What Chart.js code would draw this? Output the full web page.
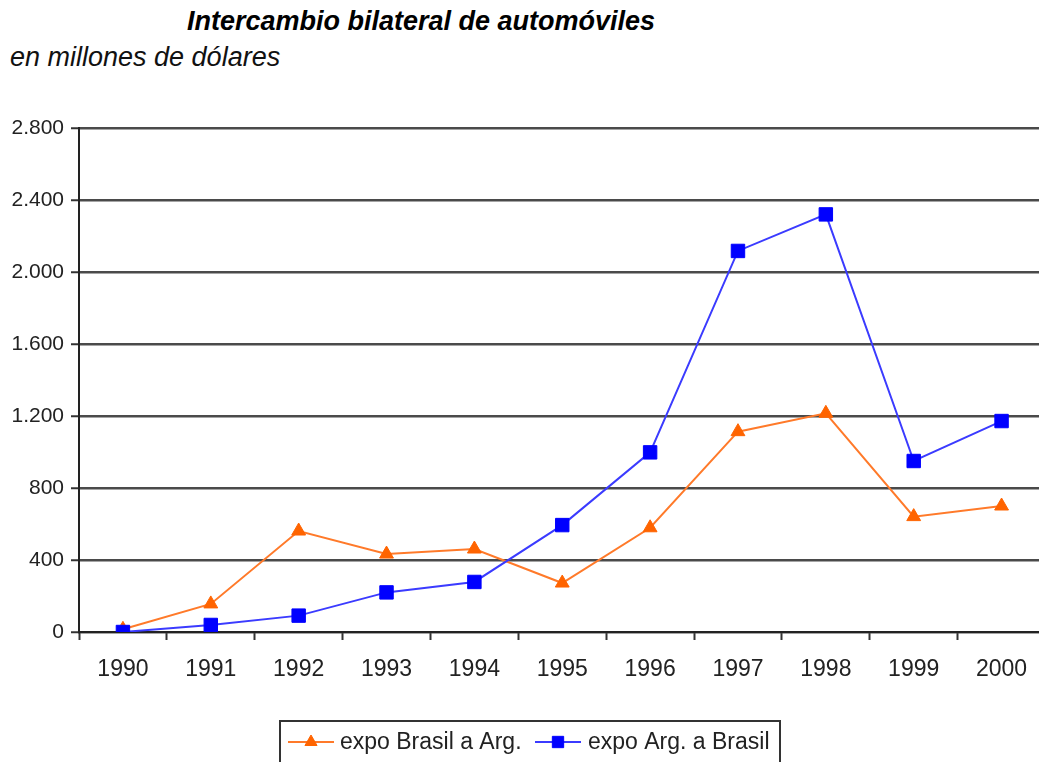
<!DOCTYPE html>
<html>
<head>
<meta charset="utf-8">
<script src="https://cdn.jsdelivr.net/npm/chart.js@4/dist/chart.umd.min.js"></script>
<style>
    body { margin: 0; background: #fff; overflow: hidden; width: 1039px; height: 762px; position: relative; }
    #chart { position: absolute; left: 0; top: 0; }
    .title { position: absolute; left: 187px; top: 8px; font: italic bold 27px "Liberation Sans", Arial, sans-serif; line-height: 27px; color: #000; white-space: nowrap; }
    .subtitle { position: absolute; left: 10px; top: 44px; font: italic 27px "Liberation Sans", Arial, sans-serif; line-height: 27px; color: #111; white-space: nowrap; }
</style>
</head>
<body>
<div class="title">Intercambio bilateral de automóviles</div>
<div class="subtitle">en millones de dólares</div>
<canvas id="chart" width="1056" height="762"></canvas>
<script>
const years = ["1990", "1991", "1992", "1993", "1994", "1995", "1996", "1997", "1998", "1999", "2000"];
const expoBrasilArg = [15, 156, 561, 433, 461, 272, 579, 1113, 1215, 641, 700];
const expoArgBrasil = [0, 39, 91, 220, 278, 594, 998, 2117, 2320, 950, 1172];
const yTicks = [0, 400, 800, 1200, 1600, 2000, 2400, 2800];

const fontFamily = '"Liberation Sans", Arial, sans-serif';

// legend drawn by hand: line with the marker in the middle, inside a box
const boxLegend = {
    id: 'boxLegend',
    afterDraw(chart) {
        let ctx = chart.ctx;
        ctx.save();
        ctx.strokeStyle = '#333';
        ctx.lineWidth = 2;
        ctx.strokeRect(280, 721, 500, 60);
        let items = [
            { x: 288, ds: chart.data.datasets[0], tx: 340 },
            { x: 535, ds: chart.data.datasets[1], tx: 588 }
        ];
        let y = 742;
        items.forEach(item => {
            ctx.strokeStyle = item.ds.borderColor;
            ctx.lineWidth = 2;
            ctx.beginPath();
            ctx.moveTo(item.x, y);
            ctx.lineTo(item.x + 46, y);
            ctx.stroke();
            ctx.fillStyle = item.ds.pointBackgroundColor;
            ctx.strokeStyle = item.ds.pointBorderColor;
            ctx.lineWidth = 1;
            Chart.helpers.drawPoint(ctx, {
                pointStyle: item.ds.pointStyle,
                rotation: 0,
                borderWidth: 1,
                radius: item.ds.pointStyle === 'rect' ? 8 : 7
            }, item.x + 23, y);
            ctx.fillStyle = '#222';
            ctx.font = '23px ' + fontFamily;
            ctx.textBaseline = 'middle';
            ctx.textAlign = 'left';
            ctx.fillText(item.ds.label, item.tx, y + 1);
        });
        ctx.restore();
    }
};

new Chart(document.getElementById('chart'), {
    type: 'line',
    data: {
        labels: years,
        datasets: [{
            label: 'expo Brasil a Arg.',
            data: expoBrasilArg,
            order: 2,
            borderColor: '#ff7a2a',
            borderWidth: 2,
            pointStyle: 'triangle',
            pointRadius: 8,
            pointBackgroundColor: '#ff6400',
            pointBorderColor: '#ff6400',
            pointBorderWidth: 1,
            tension: 0
        }, {
            label: 'expo Arg. a Brasil',
            data: expoArgBrasil,
            order: 1,
            borderColor: '#3b3bff',
            borderWidth: 2,
            pointStyle: 'rect',
            pointRadius: 9.5,
            pointBackgroundColor: '#0000ff',
            pointBorderColor: '#0000ff',
            pointBorderWidth: 1,
            tension: 0
        }]
    },
    options: {
        responsive: false,
        animation: false,
        layout: { padding: { top: 128, right: 4, left: 0, bottom: 0 } },
        plugins: {
            legend: { display: false },
            title: { display: false },
            tooltip: { enabled: false }
        },
        scales: {
            x: {
                offset: true,
                afterFit(scale) { scale.height = 130; },
                grid: {
                    offset: true,
                    drawOnChartArea: false,
                    drawTicks: true,
                    tickLength: 8,
                    tickColor: '#333',
                    tickWidth: 2
                },
                border: { display: true, color: '#222', width: 2 },
                ticks: {
                    color: '#222',
                    padding: 16,
                    maxRotation: 0,
                    font: { family: fontFamily, size: 23 }
                }
            },
            y: {
                min: 0,
                max: 2800,
                afterFit(scale) { scale.width = 79; },
                afterBuildTicks(scale) { scale.ticks = yTicks.map(v => ({ value: v })); },
                grid: {
                    color: '#4a4a4a',
                    lineWidth: 2.5,
                    drawTicks: true,
                    tickLength: 8,
                    tickColor: '#333',
                    tickWidth: 2
                },
                border: { display: true, color: '#222', width: 2 },
                ticks: {
                    color: '#222',
                    padding: 7,
                    font: { family: fontFamily, size: 21 },
                    callback: v => v.toString().replace(/\B(?=(\d{3})+(?!\d))/g, '.')
                }
            }
        }
    },
    plugins: [boxLegend]
});
</script>
</body>
</html>
